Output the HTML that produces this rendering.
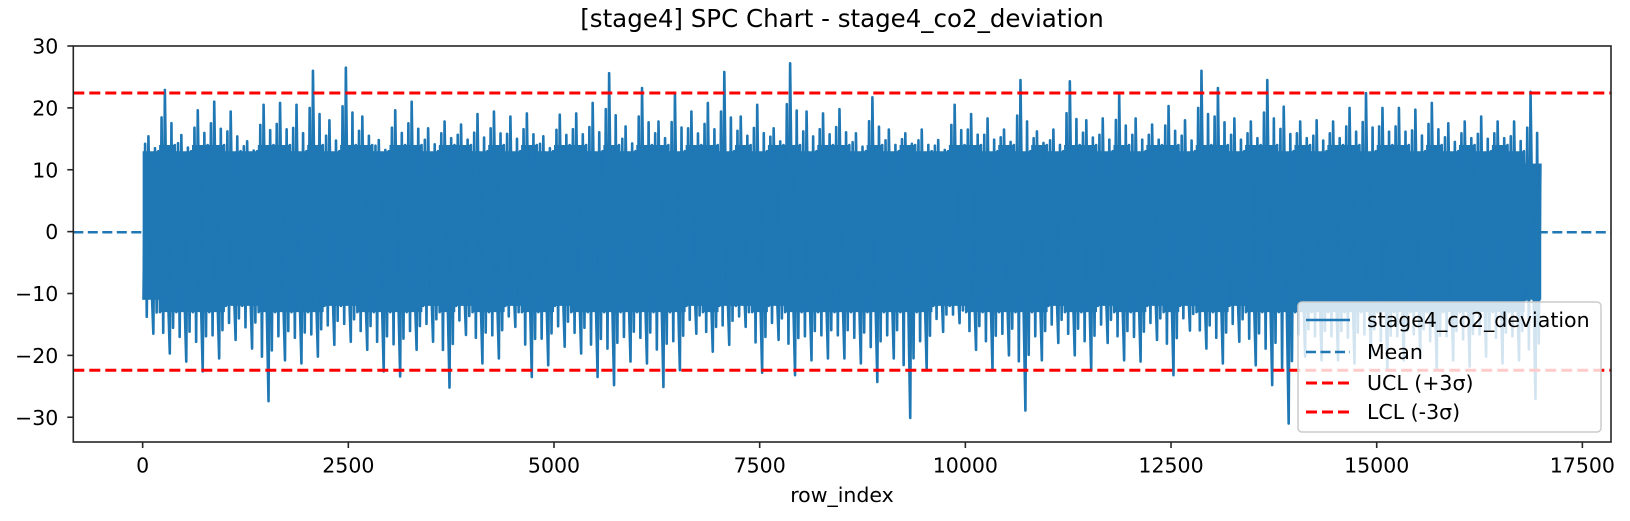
<!DOCTYPE html>
<html><head><meta charset="utf-8"><title>SPC Chart</title>
<style>
html,body{margin:0;padding:0;background:#fff;}
svg{display:block;font-family:"DejaVu Sans","Liberation Sans",sans-serif;}
</style></head>
<body>
<svg id="chart" width="1630" height="521" viewBox="0 0 1630 521">
  <rect x="0" y="0" width="1630" height="521" fill="#fff"/>
  <text x="842" y="27" text-anchor="middle" font-size="24.5" fill="#000">[stage4] SPC Chart - stage4_co2_deviation</text>
  <g id="plot"></g>
  <g id="axes"></g>
  <text x="842" y="502" text-anchor="middle" font-size="20.5" fill="#000">row_index</text>
  <g id="legend">
    <rect x="1298" y="302" width="303" height="130" rx="4" fill="#fff" fill-opacity="0.8" stroke="#ccc" stroke-width="1.5"/>
    <g>
      <line x1="1306" y1="320" x2="1350" y2="320" stroke="#1f77b4" stroke-width="2.6"/>
      <text x="1367" y="327" font-size="20.5" fill="#000">stage4_co2_deviation</text>
    </g>
    <g>
      <line x1="1306" y1="352" x2="1350" y2="352" stroke="#1f77b4" stroke-width="2.6" stroke-dasharray="10,4.5"/>
      <text x="1367" y="359" font-size="20.5" fill="#000">Mean</text>
    </g>
    <g>
      <line x1="1306" y1="383" x2="1350" y2="383" stroke="#ff0000" stroke-width="3" stroke-dasharray="11,5"/>
      <text x="1367" y="390" font-size="20.5" fill="#000">UCL (+3σ)</text>
    </g>
    <g>
      <line x1="1306" y1="412" x2="1350" y2="412" stroke="#ff0000" stroke-width="3" stroke-dasharray="11,5"/>
      <text x="1367" y="419" font-size="20.5" fill="#000">LCL (-3σ)</text>
    </g>
  </g>
</svg>
<script>
// ---- data (200-row bins) ----
const binStart = 0;
const binWidth = 200;
const binMax = [15.4,22.9,15.6,19.6,21,19.4,14.6,20.5,20.8,20.5,26,18,26.5,18.6,14.8,19.6,21,16.7,17.8,17.3,19,
  19.4,18.6,19.1,15.4,18.9,19.1,20.8,25.6,17,23.2,17.8,22.4,19.4,20.8,25.8,18.6,20.5,16.7,27.2,19.4,19.1,
  19.8,15.9,21.7,16.5,15.9,16.5,14.8,20.5,19,18.3,16.5,24.5,16.2,16.5,24.3,18,18.3,22.1,18.3,17.3,20.3,18,
  26,23.2,18.3,17.8,24.5,20.2,17.8,18,17.8,20,22.4,20,20,19.7,20.8,17.5,17.8,18.6,17.8,17.8,22.6];
const binMin = [-16.5,-19.7,-21,-22.6,-20.5,-17.5,-18.9,-27.4,-20.8,-21.3,-20.2,-18.3,-17.8,-19.1,-22.6,-23.4,-19.1,-17.8,-25.2,-16.7,-21.3,
  -20.5,-15.4,-23.5,-21.6,-18.6,-19.7,-23.5,-24.8,-21,-21.3,-25.1,-22.4,-16.5,-19.4,-18.3,-15.4,-22.8,-17.5,-23.2,-20.8,-20.5,
  -20.5,-21.3,-24.3,-20.5,-30.1,-22.4,-16.2,-14.8,-19.1,-22.4,-20,-28.9,-20.8,-18,-20,-22.4,-18,-20.8,-21,-17.5,-23.2,-16,
  -18.9,-21.3,-17.8,-21.6,-24.8,-31,-20.2,-20.8,-20.8,-21.3,-20.2,-22.4,-20.8,-20.2,-22.4,-20.8,-21.8,-20.2,-21.3,-20.8,-27];
const coreHi = [13,14,13,14,14,13,13,14,14,13,14,13,14,14,13,14,14,13,14,14,13,
  14,13,14,13,14,14,13,14,13,14,14,13,14,14,13,14,13,14,14,13,14,
  14,13,14,13,14,13,13,14,14,13,14,13,14,13,14,14,13,14,13,14,14,13,
  14,14,13,14,14,13,14,13,14,14,13,14,14,13,14,13,14,13,14,13,11];
const coreLo = [-11,-13,-13,-13,-13,-12,-12,-13,-13,-13,-13,-12,-12,-13,-13,-13,-13,-12,-13,-12,-13,
  -13,-12,-13,-13,-12,-13,-13,-13,-13,-13,-13,-13,-12,-13,-12,-12,-13,-12,-13,-13,-13,
  -13,-13,-13,-13,-13,-13,-12,-12,-13,-13,-13,-13,-13,-12,-13,-13,-12,-13,-13,-12,-13,-12,
  -13,-13,-12,-13,-13,-13,-13,-13,-13,-13,-13,-13,-13,-13,-13,-13,-13,-13,-13,-13,-11];
const meanValue = -0.1;
const uclValue = 22.4;
const lclValue = -22.4;
const xTicks = [0,2500,5000,7500,10000,12500,15000,17500];
const xTickLabels = ["0","2500","5000","7500","10000","12500","15000","17500"];
const yTicks = [30,20,10,0,-10,-20,-30];
const yTickLabels = ["30","20","10","0","\u221210","\u221220","\u221230"];

// ---- axes ----
const L=73.3,R=1611,T=46,B=442;
const xMin=-843, xMax=17848, yMin=-34.0, yMax=30.0;
const sx=v=>L+(v-xMin)/(xMax-xMin)*(R-L);
const sy=v=>B-(v-yMin)/(yMax-yMin)*(B-T);
const NS="http://www.w3.org/2000/svg";
function mk(tag,attrs,parent){const e=document.createElementNS(NS,tag);for(const k in attrs)e.setAttribute(k,attrs[k]);parent.appendChild(e);return e;}
const plot=document.getElementById('plot');
const axes=document.getElementById('axes');

const defs=mk('defs',{},plot);
const cp=mk('clipPath',{id:'clip'},defs);
mk('rect',{x:L,y:T,width:R-L,height:B-T},cp);
const g=mk('g',{'clip-path':'url(#clip)'},plot);

// core band
let pts=[];
for(let i=0;i<coreHi.length;i++){pts.push(sx(binStart+i*binWidth)+','+sy(coreHi[i]));pts.push(sx(binStart+(i+1)*binWidth)+','+sy(coreHi[i]));}
for(let i=coreLo.length-1;i>=0;i--){pts.push(sx(binStart+(i+1)*binWidth)+','+sy(coreLo[i]));pts.push(sx(binStart+i*binWidth)+','+sy(coreLo[i]));}
const core=mk('polygon',{points:pts.join(' '),fill:'#1f77b4'},g);



// spikes
let sp=[];
for(let i=0;i<binMax.length;i++){
  const x0=binStart+i*binWidth;
  const hiMid=(binMax[i]+coreHi[i])/2, loMid=(binMin[i]+coreLo[i])/2;
  sp.push(sx(x0+binWidth*0.05)+','+sy(coreLo[i]));
  sp.push(sx(x0+binWidth*0.15)+','+sy(hiMid));
  sp.push(sx(x0+binWidth*0.25)+','+sy(loMid));
  sp.push(sx(x0+binWidth*0.35)+','+sy(binMax[i]));
  sp.push(sx(x0+binWidth*0.5)+','+sy(coreLo[i]*0.5));
  sp.push(sx(x0+binWidth*0.65)+','+sy(binMin[i]));
  sp.push(sx(x0+binWidth*0.75)+','+sy(hiMid*0.95));
  sp.push(sx(x0+binWidth*0.85)+','+sy(loMid*0.95));
  sp.push(sx(x0+binWidth*0.95)+','+sy(coreHi[i]));
}
const line=mk('polyline',{points:sp.join(' '),fill:'none',stroke:'#1f77b4','stroke-width':2.6,'stroke-linejoin':'round'},g);



const meanL=mk('line',{x1:L,x2:R,y1:sy(meanValue),y2:sy(meanValue),stroke:'#1f77b4','stroke-width':2.6,'stroke-dasharray':'10,4.5'},plot);


const uclL=mk('line',{x1:L,x2:R,y1:sy(uclValue),y2:sy(uclValue),stroke:'#ff0000','stroke-width':3,'stroke-dasharray':'11,5'},plot);


const lclL=mk('line',{x1:L,x2:R,y1:sy(lclValue),y2:sy(lclValue),stroke:'#ff0000','stroke-width':3,'stroke-dasharray':'11,5'},plot);



const frame=mk('rect',{x:L,y:T,width:R-L,height:B-T,fill:'none',stroke:'#262626','stroke-width':1.6},axes);



xTicks.forEach((v,i)=>{
  const x=sx(v);
  const t=mk('line',{x1:x,x2:x,y1:B,y2:B+6,stroke:'#262626','stroke-width':1.6},axes);
  
  
  const lb=mk('text',{x:x,y:472.5,'text-anchor':'middle','font-size':20.5,fill:'#000'},axes);
  lb.textContent=xTickLabels[i];
  
  
});
yTicks.forEach((v,i)=>{
  const y=sy(v);
  const t=mk('line',{x1:L-6,x2:L,y1:y,y2:y,stroke:'#262626','stroke-width':1.6},axes);
  
  
  const lb=mk('text',{x:L-15,y:y+7.5,'text-anchor':'end','font-size':20.5,fill:'#000'},axes);
  lb.textContent=yTickLabels[i];
  
  
});
</script>
</body></html>
